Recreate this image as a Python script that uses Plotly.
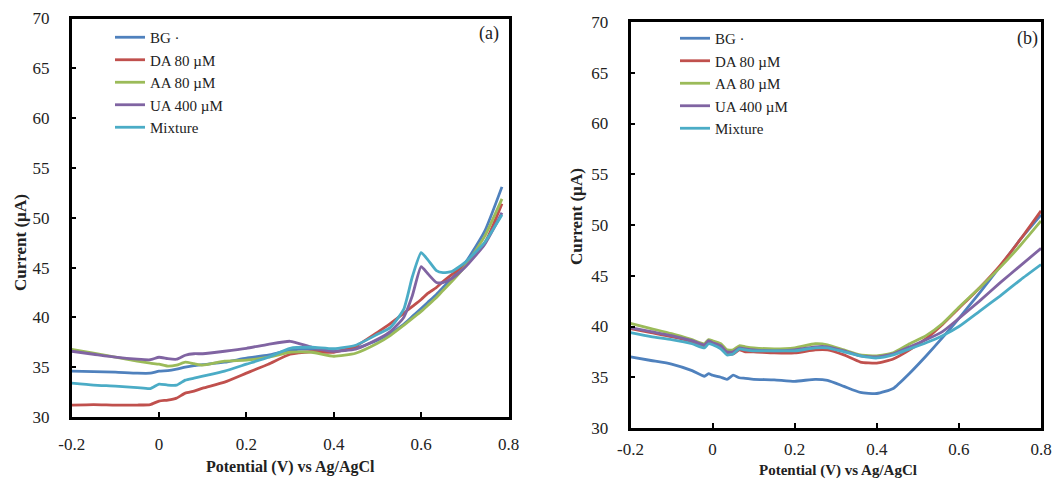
import plotly.graph_objects as go

# ---------------- data ----------------
series_names = ["BG ·", "DA 80 µM", "AA 80 µM", "UA 400 µM", "Mixture"]
series_colors = ["#4F81BD", "#C0504D", "#9BBB59", "#8064A2", "#4BACC6"]

# panel (a)
xa = [-0.2, -0.15, -0.1, -0.05, -0.02, 0.0, 0.02, 0.04, 0.06, 0.08, 0.1, 0.15, 0.2, 0.25, 0.3,
      0.35, 0.4, 0.45, 0.5, 0.53, 0.56, 0.58, 0.6, 0.615, 0.635, 0.65, 0.67, 0.7, 0.745, 0.785]
bg_a = [34.6, 34.55, 34.5, 34.4, 34.4, 34.6, 34.65, 34.8, 35.0, 35.15, 35.25, 35.5, 35.9, 36.2, 36.7,
        36.8, 36.6, 36.9, 37.7, 38.4, 39.3, 40.1, 40.9, 41.5, 42.3, 43.0, 43.9, 45.4, 48.6, 53.1]
da_a = [31.2, 31.25, 31.2, 31.2, 31.25, 31.6, 31.7, 31.9, 32.4, 32.6, 32.9, 33.5, 34.4, 35.3, 36.3,
        36.55, 36.5, 37.1, 38.5, 39.4, 40.4, 41.1, 41.8, 42.4, 43.0, 43.6, 44.3, 45.3, 47.4, 51.4]
aa_a = [36.8, 36.4, 36.0, 35.6, 35.4, 35.3, 35.1, 35.2, 35.5, 35.35, 35.2, 35.6, 35.7, 36.0, 36.5,
        36.5, 36.1, 36.4, 37.4, 38.2, 39.2, 39.9, 40.6, 41.2, 42.0, 42.7, 43.6, 45.1, 48.1, 51.9]
ua_a = [36.6, 36.3, 36.0, 35.8, 35.75, 36.0, 35.85, 35.8, 36.2, 36.35, 36.35, 36.6, 36.9, 37.3, 37.6,
        37.0, 36.6, 36.8, 37.8, 38.6, 40.0, 42.2, 45.1, 44.4, 43.5, 43.5, 43.9, 45.0, 47.3, 50.5]
mix_a = [33.4, 33.2, 33.1, 32.95, 32.85, 33.3, 33.2, 33.2, 33.7, 33.9, 34.1, 34.6, 35.3, 36.0, 36.9,
         37.0, 36.85, 37.2, 38.3, 39.0, 40.8, 44.1, 46.5, 45.8, 44.7, 44.5, 44.6, 45.5, 47.5, 50.3]

# panel (b)
xb = [-0.2, -0.15, -0.1, -0.05, -0.02, -0.01, 0.0, 0.02, 0.035, 0.05, 0.065, 0.08, 0.1, 0.15, 0.2,
      0.25, 0.28, 0.32, 0.36, 0.4, 0.44, 0.48, 0.52, 0.56, 0.6, 0.65, 0.7, 0.75, 0.8]
bg_b = [37.0, 36.65, 36.3, 35.65, 35.1, 35.35, 35.2, 35.0, 34.8, 35.2, 34.95, 34.9, 34.8, 34.75, 34.6,
        34.8, 34.7, 34.1, 33.5, 33.4, 33.9, 35.4, 37.1, 38.9, 40.8, 43.3, 45.9, 48.6, 51.0]
da_b = [39.8, 39.4, 39.0, 38.5, 38.0, 38.5, 38.3, 38.0, 37.3, 37.3, 37.7, 37.5, 37.5, 37.4, 37.4,
        37.7, 37.7, 37.2, 36.5, 36.4, 36.8, 37.7, 38.8, 40.2, 41.8, 43.8, 46.0, 48.6, 51.4]
aa_b = [40.3, 39.8, 39.3, 38.7, 38.3, 38.7, 38.6, 38.3, 37.7, 37.7, 38.1, 38.0, 37.9, 37.8, 37.9,
        38.3, 38.2, 37.7, 37.2, 37.1, 37.4, 38.3, 39.1, 40.3, 41.9, 43.8, 45.8, 48.0, 50.4]
ua_b = [39.9, 39.5, 39.1, 38.6, 38.2, 38.6, 38.4, 38.1, 37.5, 37.5, 37.9, 37.8, 37.7, 37.6, 37.7,
        38.0, 38.0, 37.6, 37.1, 37.0, 37.3, 38.0, 38.7, 39.5, 40.8, 42.5, 44.3, 46.0, 47.7]
mix_b = [39.4, 39.0, 38.7, 38.3, 37.9, 38.3, 38.2, 37.8, 37.2, 37.3, 37.8, 37.7, 37.6, 37.6, 37.6,
         37.9, 37.9, 37.5, 37.1, 36.9, 37.2, 37.8, 38.4, 39.1, 40.0, 41.5, 43.0, 44.6, 46.1]

x_tickvals = [-0.2, 0, 0.2, 0.4, 0.6, 0.8]
x_ticktext = ["-0.2", "0", "0.2", "0.4", "0.6", "0.8"]
y_tickvals = [30, 35, 40, 45, 50, 55, 60, 65, 70]
y_ticktext = ["30", "35", "40", "45", "50", "55", "60", "65", "70"]

x_title = "Potential (V) vs Ag/AgCl"
y_title = "Current (µA)"

# ---------------- figure ----------------
W, H = 1056, 479
SERIF = "Liberation Serif, Times New Roman, serif"

fig = go.Figure()
ys_a = [bg_a, da_a, aa_a, ua_a, mix_a]
ys_b = [bg_b, da_b, aa_b, ua_b, mix_b]
for name, col, y in zip(series_names, series_colors, ys_a):
    fig.add_trace(go.Scatter(x=xa, y=y, name=name, mode="lines",
                             line=dict(color=col, width=2.8, shape="spline", smoothing=0.5),
                             xaxis="x", yaxis="y", legend="legend"))
for name, col, y in zip(series_names, series_colors, ys_b):
    fig.add_trace(go.Scatter(x=xb, y=y, name=name, mode="lines",
                             line=dict(color=col, width=2.8, shape="spline", smoothing=0.5),
                             xaxis="x2", yaxis="y2", legend="legend2"))

def px_x(p):
    return p / W

def px_y(p):
    return 1 - p / H

axis_common = dict(showgrid=False, zeroline=False, showline=True, linecolor="black", linewidth=2.5,
                   mirror=True, ticks="inside", ticklen=5, tickwidth=2, tickcolor="black",
                   automargin=False,
                   tickfont=dict(family=SERIF, size=17, color="#222"))

leg_font = dict(family=SERIF, size=15, color="#222")
fig.update_layout(
    template="none",
    width=W, height=H, margin=dict(l=0, r=0, t=0, b=0, autoexpand=False),
    paper_bgcolor="white", plot_bgcolor="white",
    xaxis=dict(domain=[px_x(71.7), px_x(508.5)], range=[-0.2, 0.8], anchor="y",
               tickvals=x_tickvals, ticktext=x_ticktext, ticklabelstandoff=10, **axis_common),
    yaxis=dict(domain=[px_y(417), px_y(18.5)], range=[30, 70], anchor="x",
               tickvals=y_tickvals, ticktext=y_ticktext, ticklabelstandoff=16, **axis_common),
    xaxis2=dict(domain=[px_x(630.5), px_x(1041)], range=[-0.2, 0.8], anchor="y2",
                tickvals=x_tickvals, ticktext=x_ticktext, ticklabelstandoff=4, **axis_common),
    yaxis2=dict(domain=[px_y(428), px_y(22)], range=[30, 70], anchor="x2",
                tickvals=y_tickvals, ticktext=y_ticktext, ticklabelstandoff=16, **axis_common),
    legend=dict(x=px_x(110), y=px_y(21), xanchor="left", yanchor="top",
                font=leg_font, bgcolor="rgba(0,0,0,0)", borderwidth=0,
                tracegroupgap=0, itemwidth=30),
    legend2=dict(x=px_x(675), y=px_y(22), xanchor="left", yanchor="top",
                 font=leg_font, bgcolor="rgba(0,0,0,0)", borderwidth=0,
                 tracegroupgap=0, itemwidth=30),
    showlegend=True,
)

title_font = dict(family=SERIF, size=16, color="#222")
ann = [
    dict(text="<b>%s</b>" % x_title, x=px_x(290), y=px_y(467), font=title_font),
    dict(text="<b>%s</b>" % x_title, x=px_x(838), y=px_y(470), font=dict(family=SERIF, size=15, color="#222")),
    dict(text="<b>%s</b>" % y_title, x=px_x(20), y=px_y(243), font=dict(family=SERIF, size=17, color="#222"), textangle=-90),
    dict(text="<b>%s</b>" % y_title, x=px_x(577), y=px_y(217), font=dict(family=SERIF, size=17, color="#222"), textangle=-90),
    dict(text="(a)", x=px_x(489), y=px_y(33), font=dict(family=SERIF, size=18, color="#222")),
    dict(text="(b)", x=px_x(1027), y=px_y(38), font=dict(family=SERIF, size=18, color="#222")),
]
for a in ann:
    fig.add_annotation(xref="paper", yref="paper", showarrow=False, xanchor="center", yanchor="middle", **a)

fig.write_html("out.html")
